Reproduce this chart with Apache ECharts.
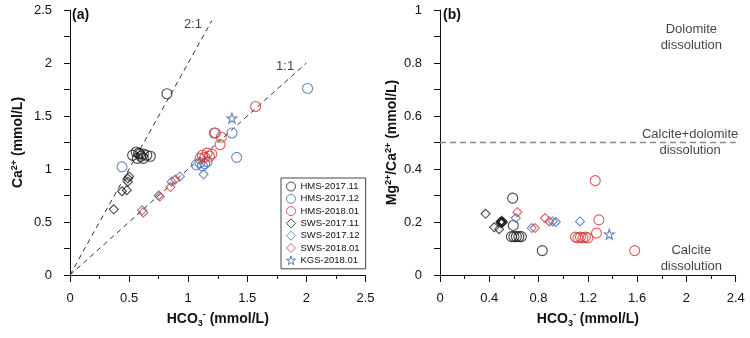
<!DOCTYPE html>
<html><head><meta charset="utf-8">
<script src="https://cdn.jsdelivr.net/npm/echarts@6/dist/echarts.min.js"></script>
<style>html,body{margin:0;padding:0;background:#fff}#c{width:750px;height:338px}</style>
</head><body><div id="c"></div>
<script>
// ---------- Panel (a): Ca2+ vs HCO3- ----------
var seriesNames = ['HMS-2017.11','HMS-2017.12','HMS-2018.01','SWS-2017.11','SWS-2017.12','SWS-2018.01','KGS-2018.01'];
var a_HMS_2017_11 = [[0.82,1.71],[0.53,1.13],[0.56,1.16],[0.58,1.15],[0.60,1.12],[0.62,1.14],[0.65,1.13],[0.68,1.12],[0.57,1.10],[0.62,1.10],[0.59,1.14]];
var a_HMS_2017_12 = [[0.44,1.02],[1.07,1.04],[1.10,1.06],[1.12,1.03],[1.14,1.05],[1.16,1.07],[1.22,1.34],[1.37,1.34],[1.41,1.11],[2.01,1.76]];
var a_HMS_2018_01 = [[1.10,1.10],[1.12,1.13],[1.14,1.11],[1.16,1.15],[1.18,1.12],[1.20,1.14],[1.23,1.34],[1.28,1.30],[1.27,1.23],[1.57,1.59]];
var a_SWS_2017_11 = [[0.37,0.62],[0.44,0.79],[0.48,0.80],[0.49,0.88],[0.49,0.91],[0.50,0.93]];
var a_SWS_2017_12 = [[0.61,0.61],[0.75,0.75],[0.86,0.88],[0.93,0.93],[1.13,0.95]];
var a_SWS_2018_01 = [[0.62,0.59],[0.76,0.74],[0.85,0.83],[0.89,0.90]];
var a_KGS_2018_01 = [[1.37,1.48]];
var line21 = [[0,0],[1.2,2.4]];
var line11 = [[0,0],[2.0,2.0]];
var lineLabelsA = [{text:'2:1', value:[1.04,2.36]},{text:'1:1', value:[1.82,1.97]}];
var aXTicks = {min:0, max:2.5, interval:0.5};
var aYTicks = {min:0, max:2.5, interval:0.5};

// ---------- Panel (b): Mg2+/Ca2+ vs HCO3- ----------
var b_HMS_2017_11 = [[0.59,0.29],[0.595,0.187],[0.58,0.145],[0.60,0.145],[0.62,0.145],[0.64,0.145],[0.66,0.145],[0.83,0.092]];
var b_HMS_2017_12 = [];
var b_HMS_2018_01 = [[1.10,0.143],[1.12,0.14],[1.14,0.143],[1.16,0.14],[1.18,0.143],[1.20,0.14],[1.27,0.158],[1.29,0.208],[1.26,0.356],[1.58,0.092]];
var b_SWS_2017_11 = [[0.37,0.231],[0.44,0.18],[0.48,0.173],[0.49,0.2],[0.50,0.205],[0.505,0.198],[0.51,0.2],[0.495,0.195],[0.50,0.2]];
var b_SWS_2017_12 = [[0.615,0.215],[0.745,0.177],[0.915,0.202],[0.94,0.2],[1.136,0.202]];
var b_SWS_2018_01 = [[0.628,0.237],[0.77,0.177],[0.852,0.215],[0.887,0.202]];
var b_KGS_2018_01 = [[1.374,0.154]];
var ratioLine = [[0,0.5],[2.4,0.5]];
var zoneLabelsB = [
  {text:'Dolomite\ndissolution', value:[2.04,0.898]},
  {text:'Calcite+dolomite\ndissolution', value:[2.03,0.5]},
  {text:'Calcite\ndissolution', value:[2.04,0.062]}
];
var bXTicks = {min:0, max:2.4, interval:0.4};
var bYTicks = {min:0, max:1, interval:0.2};

var FONT = '"Liberation Sans", Arial, sans-serif';
var styles = [
  {symbol:'circle', color:'#1a1a1a', size:10},
  {symbol:'circle', color:'#3f6fb8', size:10},
  {symbol:'circle', color:'#d6352f', size:10},
  {symbol:'diamond', color:'#1a1a1a', size:9},
  {symbol:'diamond', color:'#3f6fb8', size:9},
  {symbol:'diamond', color:'#d6352f', size:9},
  {symbol:'path://M50,0 L61.8,36.2 L100,36.2 L69.1,58.8 L80.9,95.1 L50,72.7 L19.1,95.1 L30.9,58.8 L0,36.2 L38.2,36.2 Z', color:'#3f5fa8', size:10}
];
var aData = [a_HMS_2017_11,a_HMS_2017_12,a_HMS_2018_01,a_SWS_2017_11,a_SWS_2017_12,a_SWS_2018_01,a_KGS_2018_01];
var bData = [b_HMS_2017_11,b_HMS_2017_12,b_HMS_2018_01,b_SWS_2017_11,b_SWS_2017_12,b_SWS_2018_01,b_KGS_2018_01];

var rich = {
  b:{fontSize:14, fontWeight:'bold', fontFamily:FONT, color:'#111'},
  sub:{fontSize:9, fontWeight:'bold', fontFamily:FONT, color:'#111', verticalAlign:'bottom', padding:[9,0,0,0]},
  sup:{fontSize:9, fontWeight:'bold', fontFamily:FONT, color:'#111', verticalAlign:'top', padding:[0,0,7,0]}
};
function axisCommon(t, isX) {
  return {
    type:'value', min:t.min, max:t.max, interval:t.interval,
    axisLine:{show:true, onZero:false, lineStyle:{color:'#111', width:1}},
    axisTick:{show:true, inside:false, length:isX?7:6, lineStyle:{color:'#111'}},
    minorTick:{show:true, splitNumber:2, length:isX?4:6, lineStyle:{color:'#111'}},
    splitLine:{show:false},
    axisLabel:{fontSize:13, fontFamily:FONT, color:'#111', margin:isX?17:18, showMinLabel:true, showMaxLabel:true},
    nameLocation:'middle',
    nameTextStyle:{rich:rich}
  };
}
var xA = axisCommon(aXTicks,true); xA.gridIndex=0; xA.name='{b|HCO}{sub|3}{sup|-}{b| (mmol/L)}'; xA.nameGap=28;
var yA = axisCommon(aYTicks,false); yA.gridIndex=0; yA.name='{b|Ca}{sup|2+}{b| (mmol/L)}'; yA.nameGap=44;
var xB = axisCommon(bXTicks,true); xB.gridIndex=1; xB.name='{b|HCO}{sub|3}{sup|-}{b| (mmol/L)}'; xB.nameGap=28;
var yB = axisCommon(bYTicks,false); yB.gridIndex=1; yB.name='{b|Mg}{sup|2+}{b|/Ca}{sup|2+}{b| (mmol/L)}'; yB.nameGap=40;
yB.axisLabel.formatter = function(v){return String(v);};

var series = [];
// reference lines (a)
[line21, line11].forEach(function(d){
  series.push({type:'line', xAxisIndex:0, yAxisIndex:0, data:d, symbol:'none', silent:true, z:1,
    lineStyle:{color:'#333', width:1, type:[5,4]}});
});
series.push({type:'scatter', xAxisIndex:0, yAxisIndex:0, symbolSize:0, silent:true,
  data:lineLabelsA.map(function(o){return {value:o.value, name:o.text};}),
  label:{show:true, position:'inside', formatter:'{b}', fontSize:13, fontFamily:FONT, color:'#111'}});
// horizontal line (b)
series.push({type:'line', xAxisIndex:1, yAxisIndex:1, data:ratioLine, symbol:'none', silent:true, z:1,
  lineStyle:{color:'#8a8a8a', width:1.5, type:[6,4]}});
series.push({type:'scatter', xAxisIndex:1, yAxisIndex:1, symbolSize:0, silent:true,
  data:zoneLabelsB.map(function(o){return {value:o.value, name:o.text};}),
  label:{show:true, position:'inside', formatter:'{b}', fontSize:13, lineHeight:16, align:'center', fontFamily:FONT, color:'#111'}});

seriesNames.forEach(function(n,i){
  var s = styles[i];
  [aData[i], bData[i]].forEach(function(d,k){
    series.push({type:'scatter', name:n, xAxisIndex:k, yAxisIndex:k, data:d, symbol:s.symbol, symbolSize:s.size,
      itemStyle:{color:'rgba(0,0,0,0)', borderColor:s.color, borderWidth:1.1}, z:3});
  });
});

var chart = echarts.init(document.getElementById('c'), null, {renderer:'canvas'});
chart.setOption({
  animation:false,
  backgroundColor:'#fff',
  grid:[
    {left:70, right:384.5, top:10, bottom:63},
    {left:440, right:14.3, top:10, bottom:63}
  ],
  xAxis:[xA, xB],
  yAxis:[yA, yB],
  legend:{
    data:seriesNames, left:281, top:178, orient:'vertical', itemWidth:9, itemHeight:9, itemGap:1.3,
    padding:[3,6,3,5], borderColor:'#444', borderWidth:1, backgroundColor:'#fff',
    itemStyle:{borderWidth:1},
    textStyle:{fontSize:9.5, lineHeight:11, fontFamily:FONT, color:'#111'}, selectedMode:false
  },
  graphic:[
    {type:'text', left:72, top:8, style:{text:'(a)', font:'bold 14px '+FONT, fill:'#111'}},
    {type:'text', left:443, top:8, style:{text:'(b)', font:'bold 14px '+FONT, fill:'#111'}}
  ],
  series:series
});
</script></body></html>
